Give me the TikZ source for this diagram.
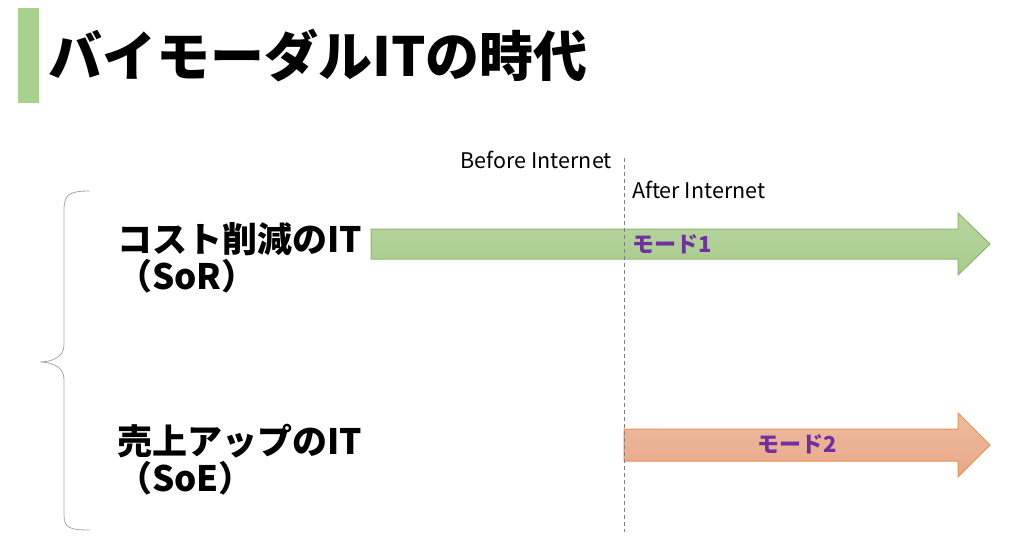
\documentclass[tikz,border=0pt]{standalone}
\usepackage{fontspec}
\setmainfont{Noto Sans CJK JP}
\usepackage{tikz}

\definecolor{barGreen}{HTML}{A9D18E}
\definecolor{arrowGreenTop}{HTML}{B7D5A0}
\definecolor{arrowGreenBottom}{HTML}{A8CB8C}
\definecolor{arrowGreenLine}{HTML}{8DB96A}
\definecolor{arrowOrangeTop}{HTML}{EEBBA0}
\definecolor{arrowOrangeBottom}{HTML}{E9A888}
\definecolor{arrowOrangeLine}{HTML}{E8914F}
\definecolor{modePurple}{HTML}{7030A0}

\tikzset{
    itlabel/.style={anchor=west, align=left, inner sep=0pt,
        font=\fontsize{35}{37}\selectfont\bfseries},
    eralabel/.style={inner sep=0pt, font=\fontsize{21.5}{23}\selectfont},
    modelabel/.style={inner sep=0pt, text=modePurple,
        font=\fontsize{22}{24}\selectfont\bfseries},
    greenarrow/.style={top color=arrowGreenTop, bottom color=arrowGreenBottom,
        draw=arrowGreenLine, line width=1pt},
    orangearrow/.style={top color=arrowOrangeTop, bottom color=arrowOrangeBottom,
        draw=arrowOrangeLine, line width=1pt}
}

\begin{document}
\begin{tikzpicture}[x=1pt, y=-1pt]
    \useasboundingbox (0,0) rectangle (1024,555);

    \fill[barGreen] (18,8) rectangle (39,103);
    \node[anchor=west, inner sep=0pt, font=\fontsize{54}{58}\selectfont\bfseries]
        (title) at (48,56) {バイモーダルITの時代};

    \draw[gray!70, line width=0.8pt] (90,191) .. controls (70,191) and (64,194) .. (64,210)
        -- (64,345) .. controls (64,358) and (50,362) .. (40,362)
        .. controls (50,362) and (64,366) .. (64,379)
        -- (64,515) .. controls (64,528) and (70,530) .. (90,530);

    \node[itlabel] (sor) at (117,258) {コスト削減のIT\\（SoR）};
    \node[itlabel] (soe) at (117,460) {売上アップのIT\\（SoE）};

    \path[greenarrow] (371,229) -- (958,229) -- (958,213) -- (990,244)
        -- (958,275) -- (958,259) -- (371,259) -- cycle;
    \path[orangearrow] (624,429) -- (958,429) -- (958,413) -- (990,445)
        -- (958,477) -- (958,461) -- (624,461) -- cycle;

    \coordinate (eraTop) at (624,158);
    \coordinate (eraBottom) at (624,532);
    \draw[gray, dashed, line width=0.8pt, dash pattern=on 4pt off 3pt] (eraTop) -- (eraBottom);

    \node[eralabel, anchor=east] (before) at (612,160) {Before Internet};
    \node[eralabel, anchor=west] (after) at (632,190) {After Internet};

    \node[modelabel, anchor=west] (mode1) at (632,244) {モード1};
    \node[modelabel] (mode2) at (797,444) {モード2};
\end{tikzpicture}
\end{document}
